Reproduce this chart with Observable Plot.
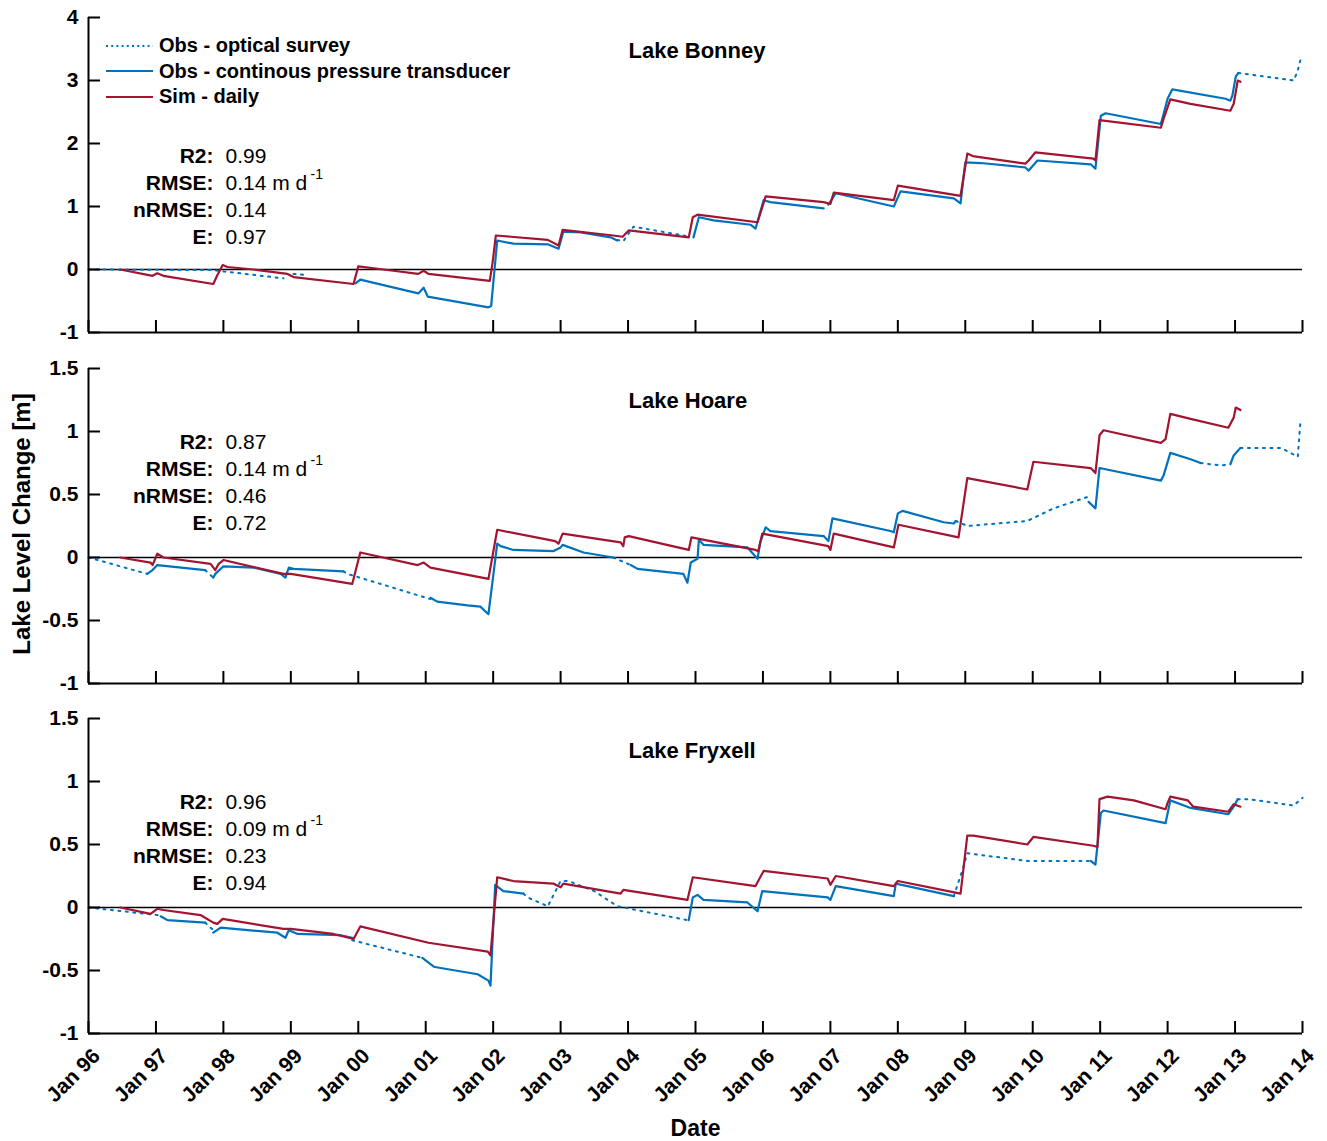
<!DOCTYPE html>
<html><head><meta charset="utf-8">
<script src="https://cdn.jsdelivr.net/npm/d3@7"></script>
<script src="https://cdn.jsdelivr.net/npm/@observablehq/plot@0.6"></script>
<style>
body{margin:0;background:#fff;}
#chart{position:relative;width:1327px;height:1141px;background:#fff;font-family:"Liberation Sans",Arial,Helvetica,sans-serif;}
#chart svg.plot{position:absolute;left:0;overflow:visible;}
.legend{position:absolute;left:106px;top:33px;font-weight:bold;font-size:20px;color:#000;}
.legend .row{display:flex;align-items:center;height:25.5px;}
.legend svg{margin-right:6px;}
</style></head><body><div id="chart"></div>
<script>
// ---------- data (year, lake level change in m) ----------
const years = d3.range(1996, 2015);
const xTickLabels = years.map(y => "Jan " + String(y).slice(2));
const statLabels = ["R2:", "RMSE:", "nRMSE:", "E:"];
const legendLabels = ["Obs - optical survey", "Obs - continous pressure transducer", "Sim - daily"];
const titles = ["Lake Bonney", "Lake Hoare", "Lake Fryxell"];

const bonneyStats = ["0.99", "0.14 m d", "0.14", "0.97"];
const hoareStats = ["0.87", "0.14 m d", "0.46", "0.72"];
const fryxellStats = ["0.96", "0.09 m d", "0.23", "0.94"];

const bonneyTicks = [-1, 0, 1, 2, 3, 4];
const hoareTicks = [-1, -0.5, 0, 0.5, 1, 1.5];
const fryxellTicks = [-1, -0.5, 0, 0.5, 1, 1.5];

const bonneySim = [[1996.47,0],[1996.95,-0.10],[1997.02,-0.06],[1997.11,-0.10],[1997.85,-0.23],[1997.91,-0.09],[1997.99,0.07],[1998.06,0.04],[1998.45,0.0],[1998.95,-0.07],[1999.04,-0.12],[1999.93,-0.23],[2000.00,0.05],[2000.52,-0.02],[2000.89,-0.07],[2000.97,-0.02],[2001.04,-0.07],[2001.95,-0.18],[2001.99,0.10],[2002.04,0.54],[2002.81,0.47],[2002.97,0.38],[2003.03,0.63],[2003.78,0.54],[2003.92,0.52],[2004.01,0.62],[2004.90,0.51],[2004.96,0.83],[2005.03,0.87],[2005.92,0.75],[2006.04,1.16],[2006.90,1.07],[2007.00,1.04],[2007.05,1.22],[2007.94,1.10],[2008.00,1.33],[2008.93,1.17],[2009.03,1.84],[2009.11,1.80],[2009.89,1.68],[2009.94,1.73],[2010.04,1.86],[2010.90,1.76],[2010.93,1.73],[2010.99,2.37],[2011.90,2.25],[2011.94,2.39],[2012.04,2.70],[2012.34,2.63],[2012.93,2.52],[2012.98,2.63],[2013.04,3.00],[2013.08,2.98]];
const bonneyTransducer = [
 [[1999.96,-0.22],[2000.03,-0.16],[2000.89,-0.38],[2000.97,-0.29],[2001.03,-0.43],[2001.93,-0.60],[2001.97,-0.58],[2002.06,0.46],[2002.30,0.41],[2002.81,0.40],[2002.97,0.33],[2003.04,0.60],[2003.30,0.59],[2003.74,0.51],[2003.84,0.46]],
 [[2004.97,0.51],[2005.05,0.83],[2005.27,0.78],[2005.82,0.71],[2005.89,0.65],[2006.01,1.10],[2006.11,1.07],[2006.90,0.97]],
 [[2006.97,1.03],[2007.08,1.21],[2007.94,1.00],[2008.04,1.24],[2008.83,1.13],[2008.93,1.05],[2009.00,1.70],[2009.23,1.69],[2009.89,1.62],[2009.94,1.57],[2010.07,1.73],[2010.86,1.67],[2010.93,1.60],[2011.01,2.44],[2011.08,2.48],[2011.90,2.31],[2012.00,2.71],[2012.07,2.86],[2012.86,2.71],[2012.93,2.68],[2012.96,2.76],[2013.01,3.06],[2013.05,3.12]]
];
const bonneyOptical = [
 [[1996.00,0],[1997.85,-0.01],[1998.00,-0.03],[1998.89,-0.14]],
 [[1999.04,-0.07],[1999.25,-0.09]],
 [[2003.84,0.47],[2003.93,0.45],[2004.08,0.68],[2004.93,0.52]],
 [[2013.05,3.12],[2013.87,3.00],[2013.93,3.16],[2013.97,3.33]]
];

const hoareSim = [[1996.47,0],[1996.92,-0.04],[1996.95,-0.06],[1997.02,0.03],[1997.11,0],[1997.81,-0.05],[1997.88,-0.10],[1997.93,-0.05],[1998.00,-0.02],[1998.89,-0.13],[1999.00,-0.13],[1999.91,-0.21],[2000.03,0.04],[2000.88,-0.06],[2000.97,-0.04],[2001.07,-0.08],[2001.93,-0.17],[2002.06,0.22],[2002.92,0.13],[2002.97,0.11],[2003.03,0.19],[2003.89,0.12],[2003.93,0.09],[2003.95,0.16],[2004.01,0.17],[2004.90,0.06],[2004.94,0.16],[2005.89,0.06],[2005.93,0.05],[2005.99,0.19],[2006.97,0.09],[2007.00,0.06],[2007.05,0.19],[2007.94,0.08],[2008.01,0.26],[2008.90,0.16],[2009.03,0.63],[2009.92,0.54],[2010.01,0.76],[2010.86,0.71],[2010.93,0.67],[2010.99,0.97],[2011.05,1.01],[2011.90,0.91],[2011.97,0.94],[2012.04,1.14],[2012.34,1.10],[2012.90,1.03],[2012.98,1.11],[2013.01,1.19],[2013.08,1.17]];
const hoareTransducer = [
 [[1996.87,-0.13],[1996.95,-0.10],[1997.02,-0.06],[1997.73,-0.10]],
 [[1997.85,-0.16],[1997.88,-0.13],[1998.00,-0.07],[1998.45,-0.08],[1998.85,-0.13],[1998.92,-0.16],[1998.97,-0.08],[1999.04,-0.09],[1999.78,-0.11]],
 [[2001.07,-0.32],[2001.17,-0.35],[2001.62,-0.38],[2001.81,-0.39],[2001.93,-0.45],[2002.06,0.11],[2002.11,0.09],[2002.30,0.06],[2002.89,0.05],[2003.00,0.08],[2003.03,0.10],[2003.34,0.04],[2003.78,0.00]],
 [[2004.04,-0.06],[2004.14,-0.09],[2004.82,-0.13],[2004.88,-0.20],[2004.93,-0.04],[2005.03,-0.01],[2005.05,0.14],[2005.12,0.10],[2005.77,0.08],[2005.92,-0.01],[2005.96,0.12],[2006.04,0.24],[2006.11,0.21],[2006.90,0.17],[2006.97,0.13],[2007.03,0.31],[2007.89,0.21],[2007.94,0.20],[2008.00,0.35],[2008.07,0.37],[2008.68,0.28],[2008.83,0.27],[2008.86,0.29]],
 [[2010.83,0.44],[2010.93,0.39],[2010.99,0.71],[2011.90,0.61],[2011.94,0.65],[2012.04,0.83],[2012.34,0.78],[2012.49,0.75]],
 [[2012.93,0.74],[2012.98,0.81],[2013.08,0.87]]
];
const hoareOptical = [
 [[1996.00,0],[1996.87,-0.13]],
 [[1997.73,-0.10],[1997.85,-0.16]],
 [[1999.78,-0.11],[1999.84,-0.13],[2001.07,-0.33]],
 [[2003.78,0.00],[2004.04,-0.06]],
 [[2008.86,0.29],[2009.03,0.25],[2009.92,0.29],[2010.31,0.39],[2010.81,0.48],[2010.83,0.44]],
 [[2012.49,0.75],[2012.79,0.73],[2012.93,0.74]],
 [[2013.08,0.87],[2013.68,0.87],[2013.93,0.80],[2013.97,1.09]]
];

const fryxellSim = [[1996.47,0],[1996.92,-0.05],[1997.02,-0.01],[1997.11,-0.02],[1997.66,-0.06],[1997.85,-0.12],[1997.91,-0.13],[1997.99,-0.09],[1998.89,-0.17],[1999.00,-0.17],[1999.63,-0.21],[1999.93,-0.25],[2000.03,-0.15],[2001.04,-0.28],[2001.92,-0.35],[2001.96,-0.38],[2002.06,0.24],[2002.30,0.21],[2002.89,0.19],[2003.00,0.16],[2003.04,0.19],[2003.89,0.11],[2003.93,0.14],[2004.88,0.06],[2004.96,0.24],[2005.89,0.17],[2006.01,0.29],[2006.96,0.23],[2007.00,0.18],[2007.08,0.25],[2007.94,0.17],[2008.00,0.21],[2008.93,0.11],[2009.03,0.57],[2009.12,0.57],[2009.92,0.50],[2010.01,0.56],[2010.90,0.49],[2010.96,0.48],[2010.99,0.86],[2011.11,0.88],[2011.50,0.85],[2011.97,0.78],[2012.00,0.83],[2012.04,0.88],[2012.30,0.85],[2012.38,0.80],[2012.90,0.76],[2012.98,0.82],[2013.08,0.80]];
const fryxellTransducer = [
 [[1997.07,-0.07],[1997.17,-0.10],[1997.73,-0.12]],
 [[1997.85,-0.20],[1997.96,-0.16],[1998.80,-0.20],[1998.92,-0.24],[1998.97,-0.18],[1999.10,-0.21],[1999.74,-0.22],[1999.91,-0.24]],
 [[2000.95,-0.40],[2001.12,-0.47],[2001.22,-0.48],[2001.77,-0.53],[2001.93,-0.58],[2001.96,-0.62],[2002.03,0.18],[2002.15,0.13],[2002.45,0.11]],
 [[2004.90,-0.10],[2004.96,0.08],[2005.03,0.10],[2005.12,0.06],[2005.77,0.04],[2005.92,-0.03],[2005.99,0.13],[2006.96,0.08],[2007.00,0.06],[2007.08,0.17],[2007.94,0.09],[2007.97,0.19],[2008.83,0.09]],
 [[2010.86,0.37],[2010.93,0.34],[2011.01,0.75],[2011.05,0.77],[2011.97,0.67],[2012.04,0.85],[2012.34,0.79],[2012.90,0.74],[2012.98,0.80],[2013.04,0.86]]
];
const fryxellOptical = [
 [[1996.00,0],[1997.02,-0.06],[1997.07,-0.07]],
 [[1997.73,-0.12],[1997.85,-0.18]],
 [[1999.91,-0.26],[2000.95,-0.40]],
 [[2002.45,0.11],[2002.51,0.08],[2002.81,0.01],[2003.00,0.21],[2003.12,0.21],[2003.50,0.13],[2003.84,0.01],[2004.88,-0.10]],
 [[2008.83,0.09],[2008.96,0.30],[2009.03,0.43],[2009.92,0.37],[2010.83,0.37]],
 [[2013.04,0.86],[2013.19,0.86],[2013.87,0.81],[2014.00,0.87]]
];

// ---------- drawing ----------
const W = 1327, ML = 88, MR = 25;
const BLUE = "#0072BD", RED = "#A2142F";
const FONT = "'Liberation Sans', Arial, Helvetica, sans-serif";
const rows = segs => segs.flatMap((s, i) => s.map(([x, y]) => ({x, y, seg: i})));
const pts = arr => arr.map(([x, y]) => ({x, y}));

function panel(cfg) {
  const plotH = cfg.height - cfg.mt - cfg.mb;
  const plotW = W - ML - MR;
  const marks = [
    Plot.ruleY([0], {stroke: "#000", strokeWidth: 1.3}),
    Plot.line(rows(cfg.opt), {x: "x", y: "y", z: "seg", stroke: BLUE, strokeWidth: 2, strokeDasharray: "2,5.5"}),
    Plot.line(rows(cfg.trans), {x: "x", y: "y", z: "seg", stroke: BLUE, strokeWidth: 2.2}),
    Plot.line(pts(cfg.sim), {x: "x", y: "y", stroke: RED, strokeWidth: 2.2}),
    Plot.ruleX([1996], {stroke: "#000", strokeWidth: 2}),
    Plot.ruleY([cfg.yTicks[0]], {stroke: "#000", strokeWidth: 2}),
    Plot.tickX(years, {x: d => d, insetTop: plotH - 12, stroke: "#000", strokeWidth: 2}),
    Plot.tickY(cfg.yTicks, {y: d => d, insetRight: plotW - 12, stroke: "#000", strokeWidth: 2}),
    Plot.axisY(cfg.yTicks, {tickSize: 0, tickPadding: 10, tickFormat: d => String(d), label: null, fontSize: 21, fontWeight: "bold"}),
    Plot.text([cfg.title], {text: d => d, frameAnchor: "top-left", dx: 540, dy: cfg.titleDy, textAnchor: "start", lineAnchor: "middle", fontWeight: "bold", fontSize: 22})
  ];
  statLabels.forEach((lab, i) => {
    const dy = cfg.statDy + i * 26.8;
    marks.push(Plot.text([lab], {text: d => d, frameAnchor: "top-left", dx: 125, dy, textAnchor: "end", lineAnchor: "middle", fontWeight: "bold", fontSize: 21}));
    marks.push(Plot.text([cfg.stats[i]], {text: d => d, frameAnchor: "top-left", dx: 137, dy, textAnchor: "start", lineAnchor: "middle", fontWeight: "normal", fontSize: 21}));
  });
  marks.push(Plot.text(["-1"], {text: d => d, frameAnchor: "top-left", dx: 222, dy: cfg.statDy + 26.8 - 9, textAnchor: "start", lineAnchor: "middle", fontWeight: "normal", fontSize: 14}));
  if (cfg.extra) marks.push(...cfg.extra);
  const svg = Plot.plot({
    width: W, height: cfg.height,
    marginLeft: ML, marginRight: MR, marginTop: cfg.mt, marginBottom: cfg.mb,
    style: {fontFamily: FONT, fontSize: "21px", fontWeight: "bold", color: "#000", background: "transparent", overflow: "visible"},
    x: {domain: [1996, 2014], axis: cfg.showX ? undefined : null},
    y: {domain: [cfg.yTicks[0], cfg.yTicks[cfg.yTicks.length - 1]]},
    marks
  });
  svg.classList.add("plot");
  svg.style.top = cfg.top + "px";
  return svg;
}

const chart = document.getElementById("chart");
chart.appendChild(panel({top: 0, height: 350, mt: 17, mb: 18, yTicks: bonneyTicks, sim: bonneySim, trans: bonneyTransducer, opt: bonneyOptical, title: titles[0], titleDy: 33, stats: bonneyStats, statDy: 139}));
chart.appendChild(panel({top: 350, height: 350, mt: 18, mb: 17, yTicks: hoareTicks, sim: hoareSim, trans: hoareTransducer, opt: hoareOptical, title: titles[1], titleDy: 32, stats: hoareStats, statDy: 74,
  extra: [Plot.text(["Lake Level Change [m]"], {text: d => d, frameAnchor: "left", dx: -66, dy: -2, rotate: -90, textAnchor: "middle", lineAnchor: "middle", fontWeight: "bold", fontSize: 24})]}));
chart.appendChild(panel({top: 700, height: 441, mt: 18, mb: 108, yTicks: fryxellTicks, sim: fryxellSim, trans: fryxellTransducer, opt: fryxellOptical, title: titles[2], titleDy: 32, stats: fryxellStats, statDy: 84, showX: true,
  extra: [
    Plot.axisX(years, {tickSize: 0, tickPadding: 19, dx: 8, tickRotate: -45, tickFormat: (d, i) => xTickLabels[i], label: null, fontSize: 21, fontWeight: "bold"}),
    Plot.text(["Date"], {text: d => d, frameAnchor: "bottom", dy: 95, lineAnchor: "middle", fontWeight: "bold", fontSize: 23})
  ]}));

// legend
const legend = d3.select(chart).append("div").attr("class", "legend");
const legendStyles = [{dash: "2,3.2", color: BLUE}, {dash: null, color: BLUE}, {dash: null, color: RED}];
legendLabels.forEach((lab, i) => {
  const row = legend.append("div").attr("class", "row");
  const s = row.append("svg").attr("width", 47).attr("height", 10);
  s.append("line").attr("x1", 0).attr("x2", 47).attr("y1", 5).attr("y2", 5)
    .attr("stroke", legendStyles[i].color).attr("stroke-width", 2.2)
    .attr("stroke-dasharray", legendStyles[i].dash);
  row.append("span").text(lab);
});
</script></body></html>
